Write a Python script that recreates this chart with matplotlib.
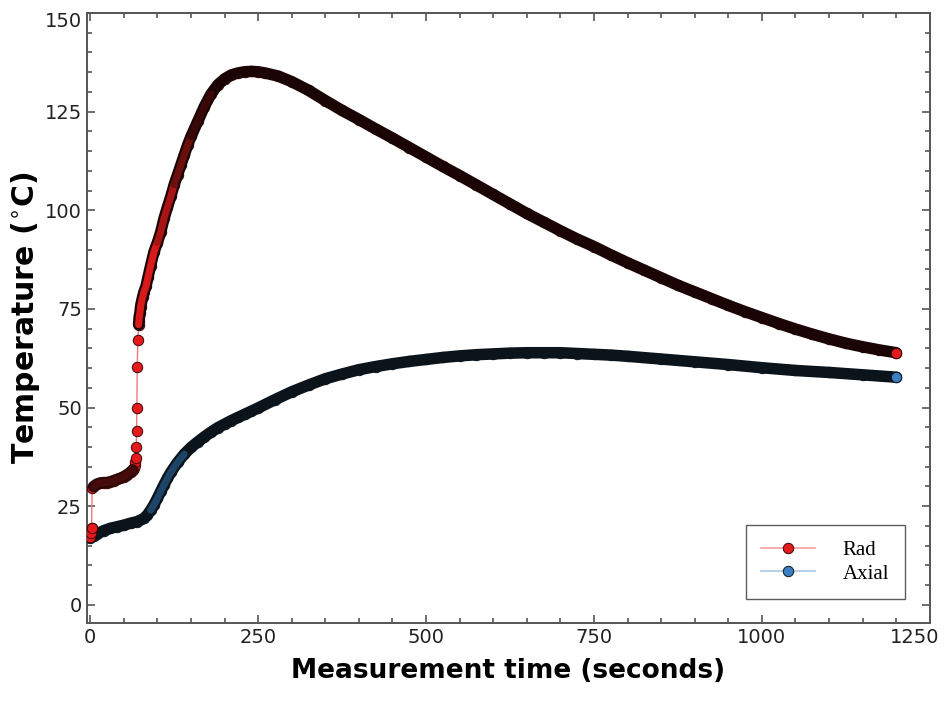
import numpy as np
import matplotlib
matplotlib.use('Agg')
import matplotlib.pyplot as plt
from matplotlib.lines import Line2D
from matplotlib.transforms import ScaledTranslation

# Radial thermocouple (time in s, temperature in C)
rad_t = [0, 1, 2, 3, 5, 10, 15, 20, 25, 30, 35, 40, 45, 50, 55, 60, 63, 65, 66, 67,
         68, 68.5, 69, 69.5, 70, 71, 72, 72.5, 73, 74, 75, 76, 78, 80, 83, 86, 90, 95,
         100, 105, 110, 115, 120, 125, 130, 135, 140, 145, 150, 160, 170, 180, 190, 200,
         210, 220, 230, 240, 250, 260, 280, 300, 325, 350, 375, 400, 425, 450, 475, 500,
         525, 550, 575, 600, 625, 650, 675, 700, 725, 750, 775, 800, 825, 850, 875, 900,
         925, 950, 975, 1000, 1025, 1050, 1075, 1100, 1125, 1150, 1175, 1200]
rad_T = [17.2, 18.3, 19.6, 29.6, 30.0, 30.6, 30.9, 31.0, 31.0, 31.2, 31.5, 31.8, 32.1, 32.5,
         33.0, 33.6, 34.2, 34.8, 35.5, 36.3, 37.2, 40.1, 44.1, 49.9, 60.4, 67.2, 71.0, 72.0,
         73.0, 74.0, 75.5, 76.5, 78.0, 79.3, 80.7, 83.0, 86.0, 89.5, 91.8, 94.5, 98.0, 100.8,
         103.5, 106.5, 109.0, 111.5, 114.0, 116.5, 118.7, 122.5, 126.3, 129.5, 131.8, 133.3,
         134.3, 134.8, 135.1, 135.2, 135.1, 134.8, 134.0, 132.6, 130.4, 127.8, 125.3, 123.0,
         120.6, 118.3, 115.9, 113.5, 111.1, 108.8, 106.4, 104.0, 101.6, 99.2, 97.0, 94.8,
         92.7, 90.8, 88.7, 86.7, 84.8, 82.9, 81.0, 79.3, 77.6, 75.9, 74.3, 72.8, 71.3, 69.9,
         68.6, 67.4, 66.3, 65.4, 64.6, 63.9]

# Axial thermocouple
ax_t = [0, 5, 10, 20, 30, 40, 50, 60, 70, 80, 85, 90, 95, 100, 105, 110, 115, 120, 130,
        140, 150, 160, 170, 180, 190, 200, 210, 220, 230, 240, 250, 275, 300, 325, 350,
        375, 400, 425, 450, 475, 500, 525, 550, 575, 600, 625, 650, 675, 700, 725, 750,
        775, 800, 850, 900, 950, 1000, 1050, 1100, 1150, 1200]
ax_T = [17.0, 17.5, 18.0, 18.8, 19.4, 19.8, 20.2, 20.7, 21.1, 21.9, 22.8, 24.0, 25.4, 27.0,
        28.8, 30.5, 32.1, 33.6, 36.1, 38.2, 39.9, 41.3, 42.6, 43.8, 44.9, 45.8, 46.7, 47.5,
        48.3, 49.1, 49.9, 52.0, 54.0, 55.7, 57.3, 58.5, 59.6, 60.4, 61.1, 61.7, 62.2, 62.7,
        63.1, 63.4, 63.6, 63.8, 63.9, 63.9, 63.9, 63.7, 63.5, 63.3, 63.0, 62.3, 61.6, 60.9,
        60.1, 59.4, 58.9, 58.3, 57.7]

red = '#e41a1c'
blue = '#3a7fc0'
ms = 7.5

fig = plt.figure(figsize=(9.44, 7.02), dpi=100)
ax = fig.add_axes([0.092, 0.1125, 0.893, 0.869])

rt = np.array(rad_t)
rT = np.array(rad_T)
at = np.array(ax_t)
aT = np.array(ax_T)

# connecting lines
ax.plot(rt, rT, color='#f07a7a', lw=1, zorder=2)
ax.plot(at, aT, color='#8fb8dd', lw=1, zorder=2)

# markers
ax.plot(rt, rT, 'o', ms=ms, mfc=red, mec='#3a0505', mew=0.7, zorder=3)
ax.plot(at, aT, 'o', ms=ms, mfc=blue, mec='#0a1520', mew=0.7, zorder=3)


# dense parts: overlapping markers show up as a dark band
def band(t, T, lo, hi, color, z=4, width=ms + 0.8):
    m = (t >= lo) & (t <= hi)
    ax.plot(t[m], T[m], color=color, lw=width, solid_capstyle='round', zorder=z)


# outlines
band(rt, rT, 5, 63, '#2e0707')
band(rt, rT, 72, 1200, '#1a0404')
band(at, aT, 0, 1200, '#0b131b')
# lighter cores where the markers are spread out more
core = ms - 2.4
band(rt, rT, 5, 63, '#460b0b', 5, core)
band(rt, rT, 72, 100, '#d81a1a', 5, core)
band(rt, rT, 100, 125, '#a81414', 5, core)
band(rt, rT, 125, 150, '#6a0e0e', 5, core)
band(rt, rT, 150, 180, '#3a0707', 5, core)
band(at, aT, 88, 140, '#1d4466', 5, core)

# first radial readings sit on top of the axial band
ax.plot(rt[:3], rT[:3], 'o', ms=ms, mfc=red, mec='#3a0505', mew=0.7, zorder=6)
# end points on top
ax.plot(rt[-1], rT[-1], 'o', ms=ms, mfc=red, mec='#3a0505', mew=0.7, zorder=6)
ax.plot(at[-1], aT[-1], 'o', ms=ms, mfc=blue, mec='#0a1520', mew=0.7, zorder=6)

ax.set_xlim(-5, 1250)
ax.set_ylim(-4.6, 150)
ax.set_xticks([0, 250, 500, 750, 1000, 1250])
ax.set_yticks([0, 25, 50, 75, 100, 125, 150])
ax.set_xticks(np.arange(0, 1251, 50), minor=True)
ax.set_yticks(np.arange(0, 151, 5), minor=True)
ax.tick_params(which='both', direction='in', top=True, right=True, color='#555555',
               width=1.2, labelsize=14, labelcolor='#222222')
ax.tick_params(which='major', length=6)
ax.tick_params(which='minor', length=3.5)
for s in ax.spines.values():
    s.set_color('#555555')
    s.set_linewidth(1.4)

# keep edge labels inside like the original
lab = ax.get_xticklabels()[-1]
lab.set_transform(lab.get_transform() + ScaledTranslation(-15 / 100, 0, fig.dpi_scale_trans))
lab = ax.get_yticklabels()[-1]
lab.set_transform(lab.get_transform() + ScaledTranslation(0, -7 / 100, fig.dpi_scale_trans))

ax.set_xlabel('Measurement time (seconds)', fontsize=19, fontweight='bold', labelpad=8)
ax.set_ylabel('Temperature ($^{\\circ}$C)', fontsize=21.5, fontweight='bold', labelpad=2)

handles = [
    Line2D([], [], color='#f4a0a0', lw=1.2, marker='o', ms=ms, mfc=red, mec='#3a0505', mew=0.7),
    Line2D([], [], color='#a8c8e6', lw=1.2, marker='o', ms=ms, mfc=blue, mec='#0a1520', mew=0.7),
]
leg = ax.legend(handles, ['Rad', 'Axial'], loc='lower right', bbox_to_anchor=(0.970, 0.039),
                borderaxespad=0, prop={'family': 'Liberation Serif', 'size': 15},
                frameon=True, fancybox=False, edgecolor='#333333', borderpad=0.75,
                labelspacing=0.2, handlelength=2.6, handletextpad=1.3)
leg.get_frame().set_linewidth(1.0)

fig.savefig('out.png', dpi=100)
